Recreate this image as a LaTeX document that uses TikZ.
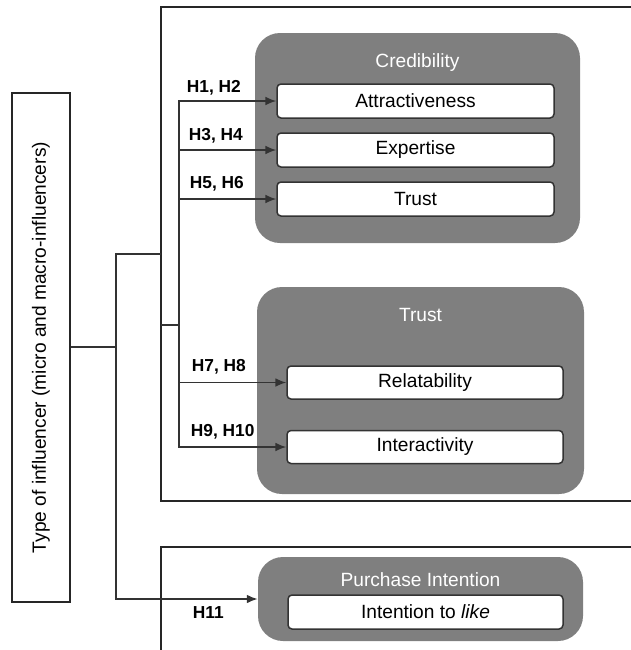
\documentclass[tikz,border=0pt]{standalone}
\usepackage{fontspec}
\setmainfont{Liberation Sans}
\usetikzlibrary{arrows.meta}
\definecolor{groupgray}{HTML}{7F7F7F}
\definecolor{linegray}{HTML}{333333}
\begin{document}
\begin{tikzpicture}[x = 0.6pt, y = -0.6pt,
		group/.style = {rectangle, rounded corners=15pt, fill=groupgray},
		item/.style = {rectangle, rounded corners=2.4pt, draw=linegray, line width=0.9pt, fill=white, font=\fontsize{11.5}{13.8}\selectfont},
		title/.style = {text=white, font=\fontsize{11.5}{13.8}\selectfont},
		hyp/.style = {anchor=west, font=\fontsize{10.4}{12.5}\selectfont\bfseries},
		link/.style = {line width=0.9pt, draw=linegray},
		tip/.style = {-{Latex[length=6.5pt, width=5.2pt]}},
		panel/.style = {line width=0.9pt, draw=black!85}]
	\useasboundingbox (0, 0) rectangle (631, 650);
	
	% Type of influencer
	\node[draw=black!85, line width=0.9pt, rotate=90, minimum width=305.4pt, minimum height=34.8pt, font=\fontsize{11.5}{13.8}\selectfont] (type) at (41, 347.5) {Type of influencer (micro and macro-influencers)};
	
	% Panels
	\draw[panel] (631, 7) -| (161, 501) -- (631, 501);
	\draw[panel] (631, 547) -| (161, 650);
	
	% Credibility
	\node[group, minimum width=195pt, minimum height=126pt] (cred) at (417.5, 138) {};
	\node[title] (credt) at (417.5, 63) {Credibility};
	\node[item, minimum width=166.2pt, minimum height=20.4pt] (attr) at (415.5, 101) {Attractiveness};
	\node[item, minimum width=166.2pt, minimum height=20.4pt] (expe) at (415.5, 150) {Expertise};
	\node[item, minimum width=166.2pt, minimum height=20.4pt] (trst) at (415.5, 199) {Trust};
	
	% Trust
	\node[group, minimum width=196.2pt, minimum height=124.2pt] (trgrp) at (420.5, 390.5) {};
	\node[title] (trgrpt) at (420.5, 315) {Trust};
	\node[item, minimum width=165.6pt, minimum height=19.8pt] (rela) at (425, 382.5) {Relatability};
	\node[item, minimum width=165.6pt, minimum height=19.8pt] (inter) at (425, 447) {Interactivity};
	
	% Purchase intention
	\node[group, minimum width=195pt, minimum height=50.4pt] (pi) at (420.5, 599) {};
	\node[title] (pit) at (420.5, 580) {Purchase Intention};
	\node[item, minimum width=165pt, minimum height=20.4pt] (like) at (425.5, 612) {Intention to \textit{like}};
	
	% Connectors
	\coordinate (fork) at (116, 347);
	\coordinate (upin) at (161, 254);
	\coordinate (bus) at (179, 325);
	\draw[link] (type.south |- fork) -- (fork);
	\draw[link] (fork) |- (upin);
	\draw[link, tip] (fork) |- (pi.west);
	\draw[link] (upin |- bus) -- (bus);
	
	% Hypotheses
	\draw[link, tip] (bus) |- (attr.west);
	\draw[link, tip] (bus) |- (expe.west);
	\draw[link, tip] (bus) |- (trst.west);
	\draw[link, tip] (bus) |- (rela.west);
	\draw[link, tip] (bus) |- (inter.west);
	
	\node[hyp] (h12) at (181, 88) {H1, H2};
	\node[hyp] (h34) at (183, 136) {H3, H4};
	\node[hyp] (h56) at (184, 184) {H5, H6};
	\node[hyp] (h78) at (186, 367) {H7, H8};
	\node[hyp] (h910) at (185, 432) {H9, H10};
	\node[hyp] (h11) at (187, 613) {H11};
\end{tikzpicture}
\end{document}
